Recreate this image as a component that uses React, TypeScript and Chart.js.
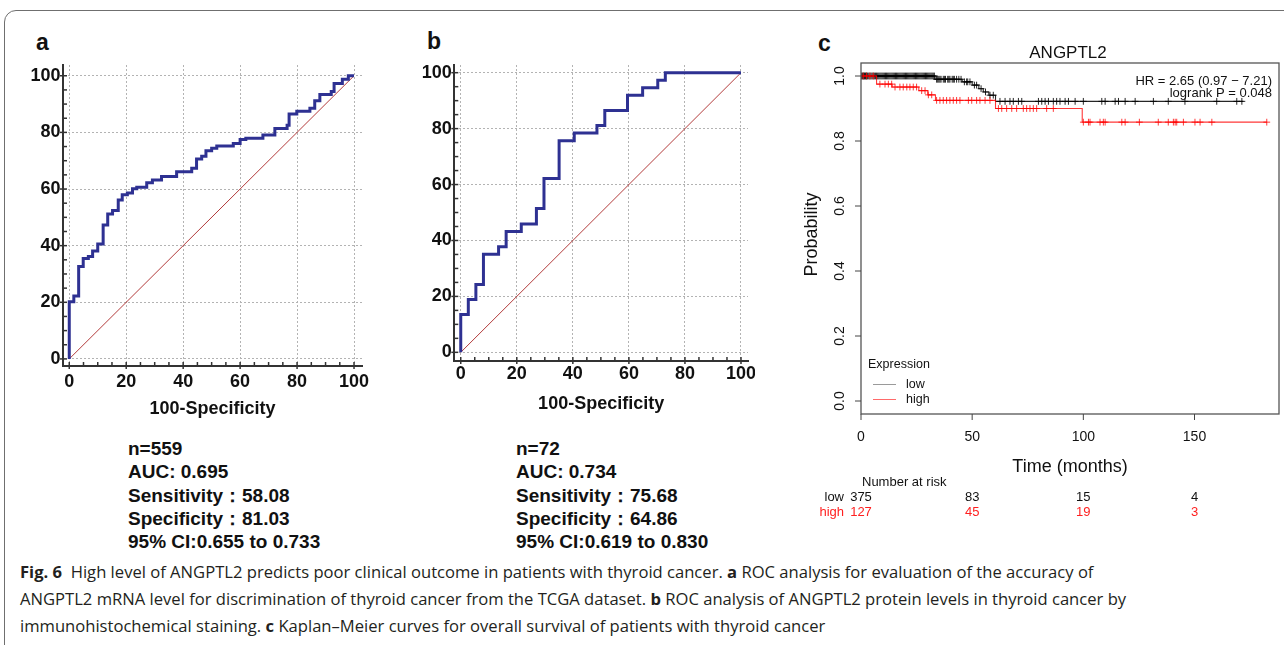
import React, { useEffect, useRef } from 'react';
import { Chart, registerables } from 'chart.js';

Chart.register(...registerables);

// ---------------- Panel a: ROC (TCGA, n=559) ----------------
const rocAFpr = [0, 0, 1.6, 3.3, 4.9, 6.7, 8.2, 10, 11.9, 13.5, 15.2, 17.2, 18.6, 20.4, 22.2, 23.7, 27.2, 29.2, 32.4, 37.7, 43, 44.7, 46.5, 48, 50, 51.8, 57.6, 60, 62, 68, 72.2, 76.5, 77.2, 79.9, 84.5, 86.2, 88, 92, 93, 95.9, 98, 100];
const rocATpr = [0, 20.2, 22.2, 32.6, 35.5, 36.2, 38.1, 40.6, 47.3, 51.2, 52.4, 56.1, 58, 58.6, 60.1, 60.6, 62.2, 63.2, 64.4, 66.1, 67.3, 70.6, 71.6, 73.5, 74.4, 75.2, 76.1, 77.5, 77.9, 79.1, 81.4, 82.5, 86.5, 87.5, 88.5, 91.2, 93.4, 94.4, 97.3, 98.8, 100, 100];

// ---------------- Panel b: ROC (IHC, n=72) ----------------
const rocBFpr = [0, 0, 2.7, 5.4, 8.1, 13.5, 16.2, 21.6, 27, 29.7, 35.1, 40.5, 48.6, 51.4, 59.5, 64.9, 70.3, 73, 100];
const rocBTpr = [0, 13.5, 18.9, 24.3, 35.1, 37.8, 43.2, 45.9, 51.4, 62.2, 75.7, 78.4, 81.1, 86.5, 91.9, 94.6, 97.3, 100, 100];

// reference diagonal
const diagX = [0, 100];
const diagY = [0, 100];

// axis ticks for ROC panels
const rocTickValues = [0, 5, 10, 15, 20, 25, 30, 35, 40, 45, 50, 55, 60, 65, 70, 75, 80, 85, 90, 95, 100];
const rocLabelValues = [0, 20, 40, 60, 80, 100];

const statsA = ['n=559', 'AUC: 0.695', 'Sensitivity\uFF1A58.08', 'Specificity\uFF1A81.03', '95% CI:0.655 to 0.733'];
const statsB = ['n=72', 'AUC: 0.734', 'Sensitivity\uFF1A75.68', 'Specificity\uFF1A64.86', '95% CI:0.619 to 0.830'];

// ---------------- Panel c: Kaplan-Meier ----------------
const kmLowTime = [0, 33.3, 45.5, 50, 53, 55, 57.5, 60.5, 172];
const kmLowSurv = [1, 0.99, 0.982, 0.972, 0.961, 0.951, 0.941, 0.922, 0.922];
const kmHighTime = [0, 7, 14, 26, 30, 33.5, 60.5, 99.5, 182.5];
const kmHighSurv = [1, 0.975, 0.966, 0.955, 0.942, 0.925, 0.9, 0.858, 0.858];

const kmLowCensor = [0.3, 0.6, 1, 1.3, 1.6, 2, 2.3, 2.6, 3, 3.5, 4, 4.5, 5, 5.5, 6, 6.5, 7, 7.5, 8, 8.5, 9, 9.5, 10, 10.5, 11, 11.5, 12, 12.5, 13, 13.5, 14, 14.5, 15, 15.5, 16, 16.5, 17, 17.5, 18, 18.5, 19, 19.5, 20, 20.5, 21, 21.5, 22, 22.5, 23, 23.5, 24, 24.5, 25, 25.5, 26, 26.5, 27, 27.5, 28, 28.5, 29, 29.5, 30, 30.5, 31, 31.5, 32, 32.5, 33, 34, 34.5, 35, 35.5, 36, 37, 37.5, 38, 39, 39.5, 40, 41, 41.5, 42, 43, 44, 45, 46.5, 47.5, 48, 49, 51, 52, 54, 56, 58, 59.5, 62.5, 64.8, 67, 68.5, 70.8, 72.3, 79.8, 81.3, 82.8, 84.3, 86.5, 88, 89.5, 91.8, 93.3, 96.3, 100, 108.3, 109.8, 114.3, 115.8, 118.8, 123.3, 131.5, 138.2, 145.7, 160, 169, 171.3];
const kmHighCensor = [1, 2.5, 4, 5.5, 8.5, 10.8, 12.3, 13.8, 15.3, 17.5, 19, 20.6, 22, 23.5, 25, 27.3, 28.8, 30.3, 31.8, 34, 35.5, 37, 38.5, 40, 41.5, 43, 44.5, 48.3, 49.8, 52, 53.5, 55.8, 58, 61.8, 63.3, 65.5, 67.8, 70, 73, 74.5, 76, 77.5, 79, 83.5, 86.5, 100, 102.3, 103, 107.5, 109, 109.8, 117.3, 118.8, 125.2, 133.7, 138.2, 140.5, 141.3, 142, 145, 150.2, 152.5, 157.8, 182.5];

const kmXTicks = [0, 50, 100, 150];
const kmYTicks = [0, 0.2, 0.4, 0.6, 0.8, 1.0];
const riskTimes = [0, 50, 100, 150];
const riskLow = [375, 83, 15, 4];
const riskHigh = [127, 45, 19, 3];

const SANS = '"Liberation Sans", Arial, Helvetica, sans-serif';
const RED = 'rgba(255,0,0,0.78)';
const BLACK = 'rgba(0,0,0,0.85)';

function survAt(times: number[], surv: number[], t: number) {
  let s = surv[0];
  for (let i = 0; i < times.length; i++) if (times[i] <= t) s = surv[i];
  return s;
}

const rocTickPlugin = {
  id: 'rocTicks',
  afterDraw(chart: any) {
    const { ctx, chartArea, scales } = chart;
    const x = scales.x, y = scales.y;
    ctx.save();
    ctx.strokeStyle = '#333';
    ctx.lineWidth = 1.5;
    rocTickValues.forEach((v) => {
      const major = rocLabelValues.includes(v);
      const px = x.getPixelForValue(v);
      ctx.beginPath();
      ctx.moveTo(px, chartArea.bottom + (major ? 3 : 0));
      ctx.lineTo(px, chartArea.bottom - 4);
      ctx.stroke();
      const py = y.getPixelForValue(v);
      ctx.beginPath();
      ctx.moveTo(chartArea.left - (major ? 3 : 0), py);
      ctx.lineTo(chartArea.left + 4, py);
      ctx.stroke();
    });
    ctx.restore();
  },
};

function rocConfig(fpr: number[], tpr: number[], p: any) {
  const labelFont = { family: SANS, size: 18, weight: 'bold' as const };
  return {
    type: 'line' as const,
    data: {
      datasets: [
        {
          data: fpr.map((x, i) => ({ x, y: tpr[i] })),
          stepped: 'before',
          borderColor: '#2e3192',
          borderWidth: 3,
          pointRadius: 0,
          fill: false,
          order: 0,
        },
        {
          data: diagX.map((x, i) => ({ x, y: diagY[i] })),
          borderColor: '#b23a3a',
          borderWidth: 1,
          pointRadius: 0,
          fill: false,
          order: 1,
        },
      ],
    },
    options: {
      responsive: false,
      animation: false,
      events: [],
      layout: { padding: { left: 0, right: p.padRight, top: p.padTop, bottom: 0 } },
      plugins: { legend: { display: false }, tooltip: { enabled: false } },
      scales: {
        x: {
          type: 'linear',
          min: p.xMin,
          max: p.xMax,
          afterBuildTicks: (s: any) => { s.ticks = rocTickValues.map((v) => ({ value: v })); },
          grid: {
            drawTicks: false,
            lineWidth: 1,
            color: (c: any) => (c.tick && rocLabelValues.includes(c.tick.value) ? '#b3b3b3' : 'rgba(0,0,0,0)'),
          },
          border: { display: true, color: '#333', width: 2, dash: [2, 2] },
          ticks: {
            autoSkip: false,
            maxRotation: 0,
            minRotation: 0,
            padding: p.xPad,
            color: '#111',
            font: labelFont,
            callback: (v: any) => (rocLabelValues.includes(Number(v)) ? String(v) : ''),
          },
          title: { display: true, text: '100-Specificity', color: '#111', font: labelFont, padding: { top: 0, bottom: p.titlePad } },
          afterFit: (s: any) => { s.height = p.xH; s.paddingLeft = 0; s.paddingRight = 0; },
        },
        y: {
          type: 'linear',
          min: p.yMin,
          max: p.yMax,
          afterBuildTicks: (s: any) => { s.ticks = rocTickValues.map((v) => ({ value: v })); },
          grid: {
            drawTicks: false,
            lineWidth: 1,
            color: (c: any) => (c.tick && rocLabelValues.includes(c.tick.value) ? '#b3b3b3' : 'rgba(0,0,0,0)'),
          },
          border: { display: true, color: '#333', width: 2, dash: [2, 2] },
          ticks: {
            autoSkip: false,
            padding: 2.5,
            color: '#111',
            font: labelFont,
            callback: (v: any) => (rocLabelValues.includes(Number(v)) ? String(v) : ''),
          },
          afterFit: (s: any) => { s.width = p.yW; s.paddingTop = 0; s.paddingBottom = 0; },
        },
      },
    },
    plugins: [rocTickPlugin],
  };
}

const kmPlugin = {
  id: 'kmDecor',
  afterDraw(chart: any) {
    const { ctx, chartArea, scales } = chart;
    const { left, right, top, bottom } = chartArea;
    const x = scales.x, y = scales.y;
    const cx = (left + right) / 2;
    ctx.save();
    // box
    ctx.strokeStyle = '#555';
    ctx.lineWidth = 1.3;
    ctx.strokeRect(left, top, right - left, bottom - top);
    ctx.fillStyle = '#111';
    ctx.strokeStyle = '#444';
    ctx.lineWidth = 1;
    // x ticks
    ctx.font = `14px ${SANS}`;
    ctx.textAlign = 'center';
    ctx.textBaseline = 'middle';
    kmXTicks.forEach((v) => {
      const px = x.getPixelForValue(v);
      ctx.beginPath(); ctx.moveTo(px, bottom); ctx.lineTo(px, bottom + 6); ctx.stroke();
      ctx.fillText(String(v), px, bottom + 23);
    });
    // y ticks (rotated labels)
    ctx.font = `14px ${SANS}`;
    kmYTicks.forEach((v) => {
      const py = y.getPixelForValue(v);
      ctx.beginPath(); ctx.moveTo(left - 6, py); ctx.lineTo(left, py); ctx.stroke();
      ctx.save();
      ctx.translate(left - 21, py);
      ctx.rotate(-Math.PI / 2);
      ctx.fillText(v.toFixed(1), 0, 0);
      ctx.restore();
    });
    // axis titles
    ctx.font = `18px ${SANS}`;
    ctx.fillText('Time (months)', cx, bottom + 53);
    ctx.save();
    ctx.translate(left - 49, (top + bottom) / 2 - 4);
    ctx.rotate(-Math.PI / 2);
    ctx.fillText('Probability', 0, 0);
    ctx.restore();
    // title
    ctx.font = `17px ${SANS}`;
    ctx.fillText('ANGPTL2', cx - 2, top - 10);
    // HR text
    ctx.font = `13px ${SANS}`;
    ctx.textAlign = 'right';
    ctx.fillText('HR = 2.65 (0.97 \u2212 7.21)', right - 7, top + 18);
    ctx.fillText('logrank P = 0.048', right - 7, top + 30.5);
    // legend
    ctx.textAlign = 'left';
    ctx.font = `12.5px ${SANS}`;
    ctx.fillText('Expression', left + 7, bottom - 49);
    ctx.fillText('low', left + 45, bottom - 29.5);
    ctx.fillText('high', left + 45, bottom - 14.5);
    ctx.lineWidth = 1;
    ctx.strokeStyle = '#9a9a9a';
    ctx.beginPath(); ctx.moveTo(left + 12, bottom - 29.5); ctx.lineTo(left + 35, bottom - 29.5); ctx.stroke();
    ctx.strokeStyle = '#ff6a6a';
    ctx.beginPath(); ctx.moveTo(left + 12, bottom - 14.5); ctx.lineTo(left + 35, bottom - 14.5); ctx.stroke();
    // number at risk table
    ctx.font = `13px ${SANS}`;
    ctx.fillStyle = '#111';
    ctx.fillText('Number at risk', left + 1, bottom + 68);
    ctx.textAlign = 'right';
    ctx.fillText('low', left - 17, bottom + 83);
    ctx.fillStyle = '#ff2020';
    ctx.fillText('high', left - 17, bottom + 98);
    ctx.textAlign = 'center';
    riskTimes.forEach((t, i) => {
      const px = x.getPixelForValue(t);
      ctx.fillStyle = '#111';
      ctx.fillText(String(riskLow[i]), px, bottom + 83);
      ctx.fillStyle = '#ff2020';
      ctx.fillText(String(riskHigh[i]), px, bottom + 98);
    });
    ctx.restore();
  },
};

function kmConfig() {
  const mk = (times: number[], surv: number[]) => times.map((t, i) => ({ x: t, y: surv[i] }));
  const cens = (c: number[], times: number[], surv: number[]) => c.map((t) => ({ x: t, y: survAt(times, surv, t) }));
  return {
    type: 'line' as const,
    data: {
      datasets: [
        { data: cens(kmHighCensor, kmHighTime, kmHighSurv), showLine: false, pointStyle: 'cross', pointRadius: 3.4, pointBorderWidth: 1, pointBorderColor: RED, borderColor: RED },
        { data: mk(kmHighTime, kmHighSurv), stepped: 'before', borderColor: RED, borderWidth: 1.1, pointRadius: 0, fill: false },
        { data: cens(kmLowCensor, kmLowTime, kmLowSurv), showLine: false, pointStyle: 'cross', pointRadius: 3.4, pointBorderWidth: 1, pointBorderColor: BLACK, borderColor: BLACK },
        { data: mk(kmLowTime, kmLowSurv), stepped: 'before', borderColor: BLACK, borderWidth: 1.1, pointRadius: 0, fill: false },
      ],
    },
    options: {
      responsive: false,
      animation: false,
      events: [],
      layout: { padding: { left: 0, right: 5, top: 33, bottom: 0 } },
      plugins: { legend: { display: false }, tooltip: { enabled: false } },
      scales: {
        x: {
          type: 'linear', min: 0, max: 188,
          grid: { display: false }, border: { display: false }, ticks: { display: false },
          afterFit: (s: any) => { s.height = 116; s.paddingLeft = 0; s.paddingRight = 0; },
        },
        y: {
          type: 'linear', min: -0.04, max: 1.04,
          grid: { display: false }, border: { display: false }, ticks: { display: false },
          afterFit: (s: any) => { s.width = 71; s.paddingTop = 0; s.paddingBottom = 0; },
        },
      },
    },
    plugins: [kmPlugin],
  };
}

function ChartCanvas({ make, left, top, width, height }: any) {
  const ref = useRef<HTMLCanvasElement>(null);
  useEffect(() => {
    const chart = new Chart(ref.current as HTMLCanvasElement, make() as any);
    return () => chart.destroy();
  }, []);
  return (
    <canvas
      ref={ref}
      width={width}
      height={height}
      style={{ position: 'absolute', left, top, width, height }}
    />
  );
}

function StatBlock({ lines, left }: { lines: string[]; left: number }) {
  return (
    <div
      style={{
        position: 'absolute',
        left,
        top: 437,
        font: `bold 19px ${SANS}`,
        lineHeight: '23.3px',
        color: '#111',
        whiteSpace: 'pre',
      }}
    >
      {lines.map((l) => (
        <div key={l}>{l}</div>
      ))}
    </div>
  );
}

export default function App() {
  const letter = (t: string, left: number, top: number) => (
    <div style={{ position: 'absolute', left, top, font: `bold 23px ${SANS}`, color: '#111', lineHeight: '26px' }}>{t}</div>
  );
  const cap: React.CSSProperties = { whiteSpace: 'nowrap', height: 27 };
  return (
    <div style={{ position: 'absolute', left: 0, top: 0, width: 1284, height: 645, background: '#fff', overflow: 'hidden' }}>
      <div style={{ position: 'absolute', left: 4, top: 10, width: 1320, height: 700, border: '1px solid #6f6f6f', borderRadius: 12, boxSizing: 'border-box' }} />
      {letter('a', 36, 29)}
      {letter('b', 427, 28)}
      {letter('c', 818, 30)}
      <ChartCanvas make={() => rocConfig(rocAFpr, rocATpr, { xMin: -2.2, xMax: 102.8, yMin: -2.5, yMax: 103.8, padRight: 8, padTop: 10, xH: 54, yW: 48, xPad: 5, titlePad: 0 })} left={15} top={55} width={355} height={365} />
      <ChartCanvas make={() => rocConfig(rocBFpr, rocBTpr, { xMin: -2.3, xMax: 102.5, yMin: -3.1, yMax: 102.75, padRight: 7, padTop: 10, xH: 59, yW: 49.3, xPad: 2, titlePad: 5 })} left={405} top={55} width={350} height={365} />
      <ChartCanvas make={kmConfig} left={790} top={30} width={494} height={500} />
      <StatBlock lines={statsA} left={128} />
      <StatBlock lines={statsB} left={516} />
      <div style={{ position: 'absolute', left: 20, top: 558, font: '16.6px "Open Sans", sans-serif', lineHeight: '27px', color: '#231f20' }}>
        <div style={cap}><b>Fig. 6</b>&nbsp; High level of ANGPTL2 predicts poor clinical outcome in patients with thyroid cancer. <b>a</b> ROC analysis for evaluation of the accuracy of</div>
        <div style={cap}>ANGPTL2 mRNA level for discrimination of thyroid cancer from the TCGA dataset. <b>b</b> ROC analysis of ANGPTL2 protein levels in thyroid cancer by</div>
        <div style={cap}>immunohistochemical staining. <b>c</b> Kaplan–Meier curves for overall survival of patients with thyroid cancer</div>
      </div>
    </div>
  );
}
